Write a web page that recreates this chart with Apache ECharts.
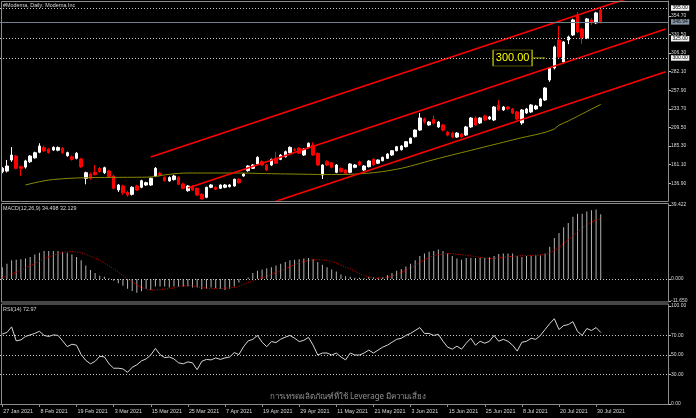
<!DOCTYPE html>
<html><head><meta charset="utf-8">
<script src="https://cdn.jsdelivr.net/npm/echarts@6/dist/echarts.min.js"></script>
<style>html,body{margin:0;padding:0;background:#000;}#c{width:696px;height:418px;}</style>
</head><body><div id="c"></div>
<script>
// ---- data ----
const dates = ['01-27','01-28','01-29','02-01','02-02','02-03','02-04','02-05','02-08','02-09','02-10','02-11','02-12','02-16','02-17','02-18','02-19','02-22','02-23','02-24','02-25','02-26','03-01','03-02','03-03','03-04','03-05','03-08','03-09','03-10','03-11','03-12','03-15','03-16','03-17','03-18','03-19','03-22','03-23','03-24','03-25','03-26','03-29','03-30','03-31','04-01','04-05','04-06','04-07','04-08','04-09','04-12','04-13','04-14','04-15','04-16','04-19','04-20','04-21','04-22','04-23','04-26','04-27','04-28','04-29','04-30','05-03','05-04','05-05','05-06','05-07','05-10','05-11','05-12','05-13','05-14','05-17','05-18','05-19','05-20','05-21','05-24','05-25','05-26','05-27','05-28','06-01','06-02','06-03','06-04','06-07','06-08','06-09','06-10','06-11','06-14','06-15','06-16','06-17','06-18','06-21','06-22','06-23','06-24','06-25','06-28','06-29','06-30','07-01','07-02','07-06','07-07','07-08','07-09','07-12','07-13','07-14','07-15','07-16','07-19','07-20','07-21','07-22','07-23','07-26','07-27','07-28','07-29','07-30','08-02'];
const opens = [152.1,152.8,167.2,172.4,158.5,158,165,170,177.3,183.4,
181.3,180.2,180,182.4,172.8,171.5,169.4,168.5,143.4,149,
151.2,156.4,150.7,152.9,146.4,128.2,133.4,125,122.5,133.4,
131.7,134.7,134.7,146.4,149.9,144.7,140,141.7,144.7,136,
127.3,133.4,130.4,122.6,118.7,131.7,131.7,130.4,131.7,132.5,
133.4,142.1,146.4,153.3,156.4,162,165,160.7,160.7,169.4,
168.1,171.5,176.7,180.6,182.4,173.7,183.7,186.7,176,147.7,
165,163.7,151.2,156.4,154.2,151.2,157.7,165,154.2,158.5,
168.1,163,166.3,169.4,173.7,179.3,180.6,184.5,189,197.5,
206.2,220.6,212.8,220,210.2,212.8,203.6,202.3,197.1,201,
199.7,210.2,221.9,215.4,224.5,220.6,219.3,238.8,232.3,236.2,
233.6,229.7,215.4,228.4,229.7,233.6,237.5,245.3,271.3,286.9,
323.4,294.8,323.4,329.9,356,337.7,326,349.5,345.6,362.5];
const highs = [158,167.2,184,174,160,167.5,173.5,178,189,186,
183,185,185,184,178,173,177.5,170,152,151,
160.7,158,158.5,154.5,148,136,135,127,133,135,
141.5,139,144.5,158,152,146,146,148,146,137.5,
134.5,134.5,131.5,124,132.5,136,133,135.5,136,136,
143,143.5,150,160.5,162,172,167,162,169,178,
175,179.5,185,182.5,184,182.5,190,190,177,161.5,
167,165,162,157.5,155.5,163,162,166.5,160.5,167,
169.5,168,171.5,176,180,185.5,186.5,192,196.5,207,
228.4,222.5,218,225,218,214,205,204,203.5,202.5,
211.5,223,224,223,226,224.5,237.5,245.3,237.5,237.5,
235,231,233.5,235,240,239,248,262,288,316,
341.7,322,329,351,359.7,339.5,352,352,360,366.4];
const lows = [150,151,165,155,146.5,156,163.5,169,176,177.5,
175.5,179,178.5,175,171.5,166.5,168,157,135.6,141.5,
147,150.5,149,144,129,125.7,122,119.5,121,127,
130.5,133.5,133.5,145,146,139,139,140.5,134.5,129,
126,127,120.5,115.5,117.5,130.5,128,129.5,130.5,131.5,
132.5,136.5,145.5,152,155.5,161,159.5,153,159.5,162,
167,170.5,175.5,178.5,175,172.5,182.5,172.5,159.5,142.5,
159.5,156.5,150,151,148.5,150,156.5,159.5,153,157.5,
159.5,162,165.5,168.5,172.5,178.5,179.5,183.5,188,196.5,
205,214.5,211.5,213.5,209,204.5,198,195.5,196,195.5,
198.5,209,211.5,214,218,219.5,218,231,231,232,
227,219,213,227,228.5,232.5,236.5,244,269,285,
300,293,318,328.5,332,318.1,324.5,343,344,345];
const closes = [156.4,159.4,173.7,156.4,156.4,166,172.4,176.7,185.4,179,
177,183.7,183.4,176.8,176.8,168.1,176,158.5,150.7,143.4,
148.3,152.1,157.2,145.5,130.4,134.7,124.5,121.7,131.7,128.2,
140.3,137.7,143.4,156.4,147.7,140.3,144.4,146.4,135.6,130.4,
133.4,128.2,121.7,116.5,131.7,134.7,129.1,134.7,134.7,134.7,
142.1,137.7,149,159.4,160.7,170.7,160.7,154.2,168.1,163,
173.7,178,183.7,180,176,181.3,189,173.7,160.7,160.7,
160.7,157.7,160.7,152.1,149.9,162,160.7,160.7,159.4,165.9,
160.7,167.2,170.7,175,179.3,184.5,185.4,191,195.5,206.2,
221.9,216.7,216.7,215,216.7,206.2,199.7,197.1,202.3,197.1,
210.2,221.9,212.8,221.9,219.3,223.2,236.2,232.3,236.2,233.6,
228.4,220.6,232.3,233.6,238.8,237.5,246.6,260.9,286.9,314.3,
301.3,320.8,327.3,349.5,333.8,326,350.8,345.6,358.6,346.94];
const ma50 = [null,null,null,null,null,134.7,136.2,137.6,138.9,140.1,
141.1,141.8,142.3,142.8,143.2,143.5,143.8,144.0,144.2,144.3,
144.4,144.5,144.5,144.6,144.6,144.6,144.7,144.7,144.7,144.8,
144.8,144.9,145.1,145.8,146.8,147.8,148.6,149.3,149.8,150.1,
150.3,150.3,150.3,150.3,150.3,150.3,150.3,150.3,150.3,150.3,
150.3,150.3,150.3,150.1,150.0,149.8,149.6,149.5,149.4,149.3,
149.2,149.1,149.0,148.9,148.8,148.7,148.6,148.5,148.4,148.4,
148.4,148.4,148.4,148.4,148.4,148.6,148.9,149.2,149.6,150.1,
150.7,151.4,152.2,153.1,154.1,155.2,156.4,157.8,159.3,160.9,
162.6,164.3,166.0,167.6,169.2,170.8,172.3,173.8,175.3,176.8,
178.3,179.8,181.3,182.8,184.3,185.8,187.3,188.8,190.3,191.8,
193.3,194.8,196.3,197.6,198.9,200.2,201.6,203.2,205.2,207.6,
212.5,215.2,218.0,221.0,224.1,227.2,230.3,233.4,236.5,239.5];
const macdMain = [6.3,8.2,10.0,10.3,10.5,10.9,11.8,13.1,14.0,14.9,
15.0,15.0,15.0,14.5,14.0,13.1,11.8,10.0,7.3,4.9,
3.3,1.8,1.3,0.4,-0.9,-2.2,-3.6,-5.1,-6.3,-7.3,
-6.5,-5.1,-5.8,-4.0,-4.0,-4.0,-4.5,-4.0,-4.0,-4.0,
-4.0,-4.5,-4.5,-5.4,-5.1,-4.5,-4.7,-5.1,-5.8,-5.1,
-4.0,-1.8,-0.5,0.9,3.3,4.5,5.1,5.8,6.3,7.3,
8.2,9.1,10.0,10.3,10.6,10.9,11.2,10.5,9.1,7.6,
6.3,5.1,4.0,2.5,1.5,1.3,0.7,0.7,0.4,1.1,
1.1,0.7,0.9,2.2,3.3,4.5,5.4,6.7,8.2,10.0,
12.3,13.6,14.5,15.0,15.8,14.9,13.6,12.3,10.9,10.3,
11.2,11.2,11.2,11.2,11.2,11.6,12.3,13.4,13.6,13.6,
13.6,12.3,11.8,12.3,12.3,12.7,12.7,13.6,17.2,21.8,
24.5,27.6,29.9,33.2,34.8,34.8,35.9,36.6,37.0,34.498];
const macdSignal = [0.9,1.8,2.7,3.6,4.8,6.0,7.1,8.2,9.5,10.8,
11.8,12.8,13.6,14.2,14.5,14.6,14.5,14.0,13.1,12.2,
11.1,10.0,8.5,7.0,5.4,3.7,1.8,0.0,-1.6,-3.1,
-4.5,-5.3,-5.8,-5.8,-5.6,-5.3,-5.1,-4.6,-4.0,-3.6,
-3.3,-3.6,-4.0,-4.5,-4.8,-5.0,-5.1,-5.0,-4.8,-4.6,
-4.5,-3.8,-2.8,-1.8,-0.9,0.0,0.8,1.5,2.5,3.5,
4.5,5.4,6.6,7.8,8.8,9.4,9.9,10.2,10.3,10.2,
9.9,9.4,8.5,7.4,6.3,5.4,4.2,3.0,1.9,1.2,
0.8,0.5,0.7,1.0,1.5,2.5,3.6,4.8,6.0,7.4,
8.8,10.3,11.5,12.4,13.0,13.4,13.6,13.5,13.2,12.9,
12.6,12.3,12.0,11.6,11.2,10.9,11.0,11.3,11.6,11.9,
12.1,12.3,12.4,12.5,12.6,12.7,12.8,13.1,14.0,15.3,
16.8,19.0,21.0,23.0,25.2,27.2,28.8,30.3,31.5,32.129];
const rsi14 = [71.4,73,78.7,64.4,65.4,68.9,70.5,72,74.2,70,
68.9,70.5,70,64.4,58.5,61,60,50.4,44.5,41,
43.5,48.7,48,41,36.5,36.5,35.8,32.3,37.5,40,
44,46,50,56.7,50.4,47.3,48,46,42,41,
43,42,35,43.5,45.5,45,47,45.5,47,48,
52.5,50.4,58.5,64.4,66,70,63,58.5,63.7,62.7,
66.1,68.2,70,67.2,63.7,65,68,60,50,52,
52,50,52,48,45,52,50,50,52,55,
52,55,58,60,63,66,67,70,72,75,
78,72,72,70,71,64,58,56,59,56,
62,67,60,64,62,64,70,64,66,64,
60,54,63,64,67,66,70,76,82,87,
76,80,81,84,74,70,77,75,78,72.97];
const futureBars = 14;
const priceTicks = [136.9,161.1,185.3,209.5,233.7,257.9,282.1,306.3,330.5,354.7];
const macdTicks = [39.422,0,-11.65];
const rsiTicks = [100,70,50,30,0];
const rsiLevels = [70,50,30];
const hLevels = [365,325,300];
const lastPrice = 346.94;
// channel lines: [barIndex, price] anchor points
const channelA = [[32,171.1],[143,393.9]];
const channelB = [[40,130.9],[143,337.6]];
const channelC = [[40,75.4],[143,282.1]];
const textLabelPrice = 300;
const textLabelBar = 110;
const textLabelLink = [[114,300],[117,300]];
const titleText = '#Moderna, Daily: Moderna Inc';
const macdText = 'MACD(12,26,9) 34.498 32.129';
const rsiText = 'RSI(14) 72.97';
const footerText = 'การเทรดผลิตภัณฑ์ที่ใช้ Leverage มีความเสี่ยง';

// ---- build ----
const MON = {'01':'Jan','02':'Feb','03':'Mar','04':'Apr','05':'May','06':'Jun','07':'Jul','08':'Aug'};
const cats = dates.map(d => parseInt(d.slice(3),10) + ' ' + MON[d.slice(0,2)] + ' 2021');
for (let k = 1; k <= futureBars; k++) cats.push('f' + k);
const candles = dates.map((_, i) => [opens[i], closes[i], lows[i], highs[i]]);
const labelEvery = (idx) => idx % 8 === 0 && idx < dates.length;

const FONT = 'Liberation Sans';
const AX = '#8c8c8c';
const TXT = '#d8d8d8';

const xAxes = [0,1,2].map(g => ({
  type: 'category', gridIndex: g, data: cats, boundaryGap: true,
  axisLine: {show: g === 2, lineStyle: {color: AX}},
  axisTick: {show: g === 2, interval: labelEvery, alignWithLabel: true, length: 3, lineStyle: {color: AX}},
  axisLabel: {show: g === 2, interval: labelEvery, align: 'left', color: TXT, fontSize: 5.4, fontFamily: FONT, margin: 5, padding: [0,0,0,1]},
  splitLine: {show: false}
}));

function yAx(g, min, max, ticks, dec) {
  return {
    type: 'value', gridIndex: g, position: 'right', min: min, max: max,
    axisLine: {show: true, lineStyle: {color: AX}},
    axisTick: {show: true, customValues: ticks, length: 3, inside: false, lineStyle: {color: '#bdbdbd'}},
    axisLabel: {show: true, customValues: ticks, formatter: v => Number(v).toFixed(dec), color: TXT, fontSize: 5, fontFamily: FONT, margin: 3},
    splitLine: {show: false}
  };
}

const boxLabel = (bg, fg) => ({
  show: true, position: 'end', distance: 3, formatter: p => Number(p.value).toFixed(2),
  backgroundColor: bg, color: fg, fontSize: 5, fontFamily: FONT, padding: [0.5, 1.5, 0, 1.5]
});

const option = {
  backgroundColor: '#000',
  animation: false,
  grid: [
    {left: 0, right: 28, top: 1, height: 199},
    {left: 0, right: 28, top: 205, height: 96},
    {left: 0, right: 28, top: 306, height: 98}
  ],
  xAxis: xAxes,
  yAxis: [
    yAx(0, 115.17, 374.1, priceTicks, 2),
    yAx(1, -11.65, 39.422, macdTicks, 3),
    yAx(2, 0, 100, rsiTicks, 2)
  ],
  graphic: [
    {type: 'rect', shape: {x: 1.5, y: 1.5, width: 667, height: 200}, style: {fill: null, stroke: AX, lineWidth: 1}, silent: true, z: 100},
    {type: 'rect', shape: {x: 1.5, y: 203.5, width: 667, height: 98.5}, style: {fill: null, stroke: AX, lineWidth: 1}, silent: true, z: 100},
    {type: 'rect', shape: {x: 1.5, y: 304, width: 667, height: 100.5}, style: {fill: null, stroke: AX, lineWidth: 1}, silent: true, z: 100},
    {type: 'text', left: 3, top: 3, style: {text: titleText, fill: TXT, font: '5.4px "Liberation Sans"'}, silent: true, z: 101},
    {type: 'text', left: 3, top: 206, style: {text: macdText, fill: TXT, font: '5.4px "Liberation Sans"'}, silent: true, z: 101},
    {type: 'text', left: 3, top: 307, style: {text: rsiText, fill: TXT, font: '5.4px "Liberation Sans"'}, silent: true, z: 101},
    {type: 'text', x: 348, y: 397, style: {text: footerText, fill: '#8f8f8f', font: '8px "Noto Sans", sans-serif', textAlign: 'center', textVerticalAlign: 'middle'}, silent: true, z: 101}
  ],
  series: [
    {
      type: 'candlestick', xAxisIndex: 0, yAxisIndex: 0, data: candles, barWidth: 3, clip: true,
      itemStyle: {color: '#ffffff', color0: '#ff0000', borderColor: '#ffffff', borderColor0: '#ff0000', borderWidth: 1},
      markLine: {
        symbol: ['none','none'], silent: true, animation: false,
        data: hLevels.map(v => ({yAxis: v, lineStyle: {type: [1,2], color: '#c8c8c8', width: 1}, label: boxLabel('#f2f2f2', '#000')}))
          .concat([{yAxis: lastPrice, lineStyle: {type: 'solid', color: '#6e7f8f', width: 1}, label: boxLabel('#8797a8', '#0a0a0a')}])
      },
      markPoint: {
        silent: true, animation: false,
        data: [{coord: [textLabelBar, textLabelPrice], symbol: 'rect', symbolSize: [39, 16],
          itemStyle: {color: '#000', borderColor: '#a3a300', borderWidth: 1},
          label: {show: true, position: 'inside', formatter: textLabelPrice.toFixed(2), color: '#ffff00', fontSize: 11, fontFamily: FONT}}]
      }
    },
    {type: 'line', xAxisIndex: 0, yAxisIndex: 0, data: ma50, symbol: 'none', lineStyle: {color: '#8a8a00', width: 1}, connectNulls: false},
    {type: 'line', xAxisIndex: 0, yAxisIndex: 0, data: channelA, symbol: 'none', clip: true, lineStyle: {color: '#ff0000', width: 1.6}},
    {type: 'line', xAxisIndex: 0, yAxisIndex: 0, data: channelB, symbol: 'none', clip: true, lineStyle: {color: '#ff0000', width: 1.6}},
    {type: 'line', xAxisIndex: 0, yAxisIndex: 0, data: channelC, symbol: 'none', clip: true, lineStyle: {color: '#ff0000', width: 1.6}},
    {type: 'line', xAxisIndex: 0, yAxisIndex: 0, data: textLabelLink, symbol: 'none', lineStyle: {color: '#a3a300', width: 1}},
    {
      type: 'bar', xAxisIndex: 1, yAxisIndex: 1, data: macdMain, barWidth: 1, itemStyle: {color: '#b4b4b4'},
      markLine: {symbol: ['none','none'], silent: true, animation: false, label: {show: false},
        data: [{yAxis: 0, lineStyle: {type: [1,2], color: '#c8c8c8', width: 1}}]}
    },
    {type: 'line', xAxisIndex: 1, yAxisIndex: 1, data: macdSignal, symbol: 'none', lineStyle: {color: '#e00000', width: 1, type: [1,1.5]}},
    {
      type: 'line', xAxisIndex: 2, yAxisIndex: 2, data: rsi14, symbol: 'none', lineStyle: {color: '#d6d6d6', width: 1},
      markLine: {symbol: ['none','none'], silent: true, animation: false, label: {show: false},
        data: rsiLevels.map(v => ({yAxis: v, lineStyle: {type: [1,2], color: '#c8c8c8', width: 1}}))}
    }
  ]
};
const chart = echarts.init(document.getElementById('c'), null, {renderer: 'canvas'});
chart.setOption(option);
</script></body></html>
